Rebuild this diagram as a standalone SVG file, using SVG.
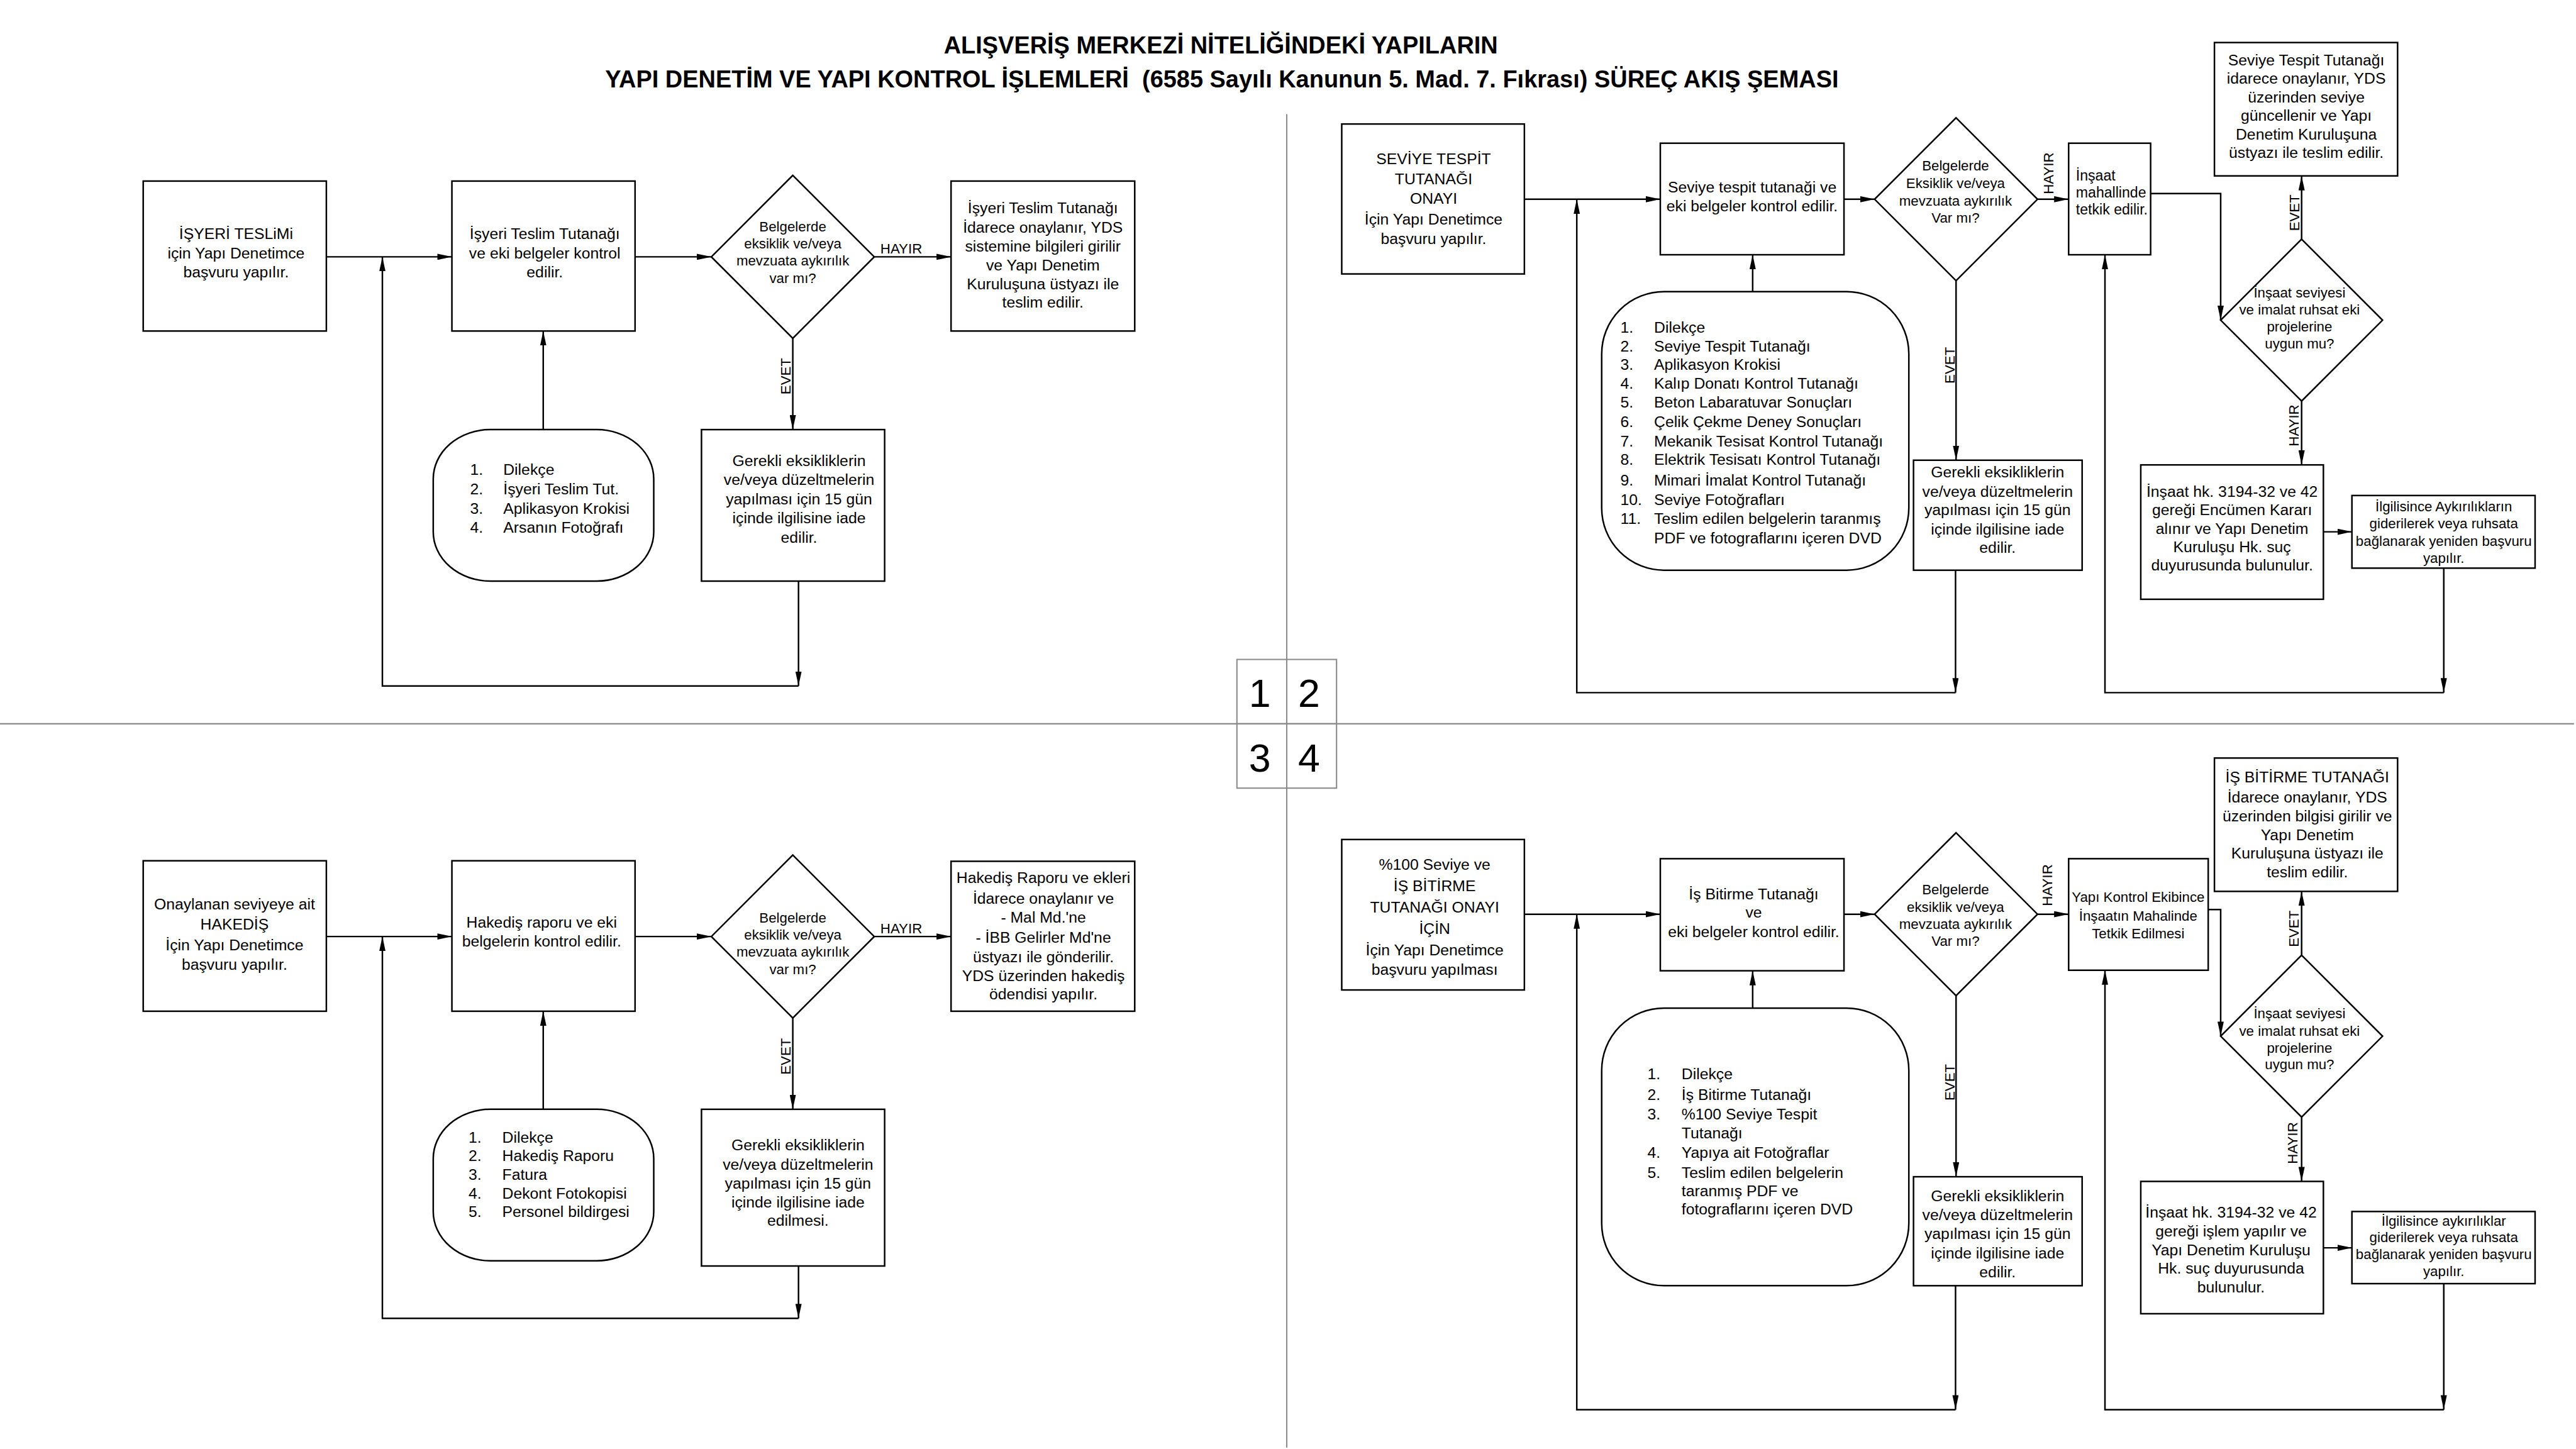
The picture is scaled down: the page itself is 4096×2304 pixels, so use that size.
<svg xmlns="http://www.w3.org/2000/svg" width="4096" height="2304" viewBox="0 0 4096 2304">
<defs>
<style>
.b{fill:#fff;stroke:#000;stroke-width:3}
.c{fill:none;stroke:#000;stroke-width:3}
.d{fill:none;stroke:#8a8a8a;stroke-width:2.5}
text{font-family:"Liberation Sans",Arial,sans-serif;fill:#000}
.t{font-size:30px;text-anchor:middle}
.s{font-size:27px;text-anchor:middle}
.ls{font-size:30px;text-anchor:start}
.st{font-size:28px;text-anchor:start}
.h{font-size:46px;font-weight:bold;text-anchor:middle}
.n{font-size:76px;text-anchor:middle}
</style>
<marker id="ah" viewBox="0 0 28 12" refX="28" refY="6" markerWidth="28" markerHeight="12" orient="auto" markerUnits="userSpaceOnUse"><path d="M0,0 L28,6 L0,12 Z" fill="#000"/></marker>
</defs>
<rect x="0" y="0" width="4096" height="2304" fill="#fff"/>
<g transform="scale(0.825)">
<g id="title">
<text class="h" x="2353" y="103">ALIŞVERİŞ MERKEZİ NİTELİĞİNDEKİ YAPILARIN</text>
<text class="h" x="2355" y="168" xml:space="preserve">YAPI DENETİM VE YAPI KONTROL İŞLEMLERİ  (6585 Sayılı Kanunun 5. Mad. 7. Fıkrası) SÜREÇ AKIŞ ŞEMASI</text>
</g>
<g id="dividers">
<line class="d" x1="2480" y1="220" x2="2480" y2="2790"/>
<line class="d" x1="0" y1="1395" x2="4961" y2="1395"/>
<rect x="2384" y="1271" width="192" height="248" fill="none" stroke="#8a8a8a" stroke-width="2.5"/>
<line class="d" x1="2384" y1="1395" x2="2576" y2="1395"/>
<text class="n" x="2428" y="1363">1</text>
<text class="n" x="2523" y="1363">2</text>
<text class="n" x="2428" y="1487">3</text>
<text class="n" x="2523" y="1487">4</text>
</g>
<g id="connectors">
<!-- Q1 -->
<line class="c" x1="629" y1="495" x2="871" y2="495" marker-end="url(#ah)"/>
<line class="c" x1="1224" y1="495" x2="1371" y2="495" marker-end="url(#ah)"/>
<line class="c" x1="1685" y1="495" x2="1833" y2="495" marker-end="url(#ah)"/>
<line class="c" x1="1528" y1="652" x2="1528" y2="828" marker-end="url(#ah)"/>
<line class="c" x1="1047" y1="828" x2="1047" y2="638" marker-end="url(#ah)"/>
<line class="c" x1="1539" y1="1120" x2="1539" y2="1322" marker-end="url(#ah)"/>
<polyline class="c" points="1539,1322 737,1322 737,495" marker-end="url(#ah)"/>
<!-- Q2 -->
<line class="c" x1="2938" y1="384" x2="3200" y2="384" marker-end="url(#ah)"/>
<line class="c" x1="3554" y1="384" x2="3613" y2="384" marker-end="url(#ah)"/>
<line class="c" x1="3927" y1="384" x2="3987" y2="384" marker-end="url(#ah)"/>
<line class="c" x1="3378" y1="562" x2="3378" y2="491" marker-end="url(#ah)"/>
<polyline class="c" points="4145,373 4280,373 4280,617" marker-end="url(#ah)"/>
<line class="c" x1="4436" y1="461" x2="4436" y2="339" marker-end="url(#ah)"/>
<line class="c" x1="4436" y1="773" x2="4436" y2="896" marker-end="url(#ah)"/>
<line class="c" x1="4478" y1="1025" x2="4533" y2="1025" marker-end="url(#ah)"/>
<line class="c" x1="3770" y1="541" x2="3770" y2="887" marker-end="url(#ah)"/>
<line class="c" x1="4710" y1="1095" x2="4710" y2="1335" marker-end="url(#ah)"/>
<polyline class="c" points="4710,1335 4057,1335 4057,491" marker-end="url(#ah)"/>
<line class="c" x1="3769" y1="1099" x2="3769" y2="1335" marker-end="url(#ah)"/>
<polyline class="c" points="3769,1335 3039,1335 3039,384" marker-end="url(#ah)"/>
<!-- Q3 -->
<line class="c" x1="629" y1="1805" x2="871" y2="1805" marker-end="url(#ah)"/>
<line class="c" x1="1224" y1="1805" x2="1371" y2="1805" marker-end="url(#ah)"/>
<line class="c" x1="1685" y1="1805" x2="1833" y2="1805" marker-end="url(#ah)"/>
<line class="c" x1="1528" y1="1962" x2="1528" y2="2138" marker-end="url(#ah)"/>
<line class="c" x1="1047" y1="2138" x2="1047" y2="1949" marker-end="url(#ah)"/>
<line class="c" x1="1539" y1="2440" x2="1539" y2="2541" marker-end="url(#ah)"/>
<polyline class="c" points="1539,2541 737,2541 737,1805" marker-end="url(#ah)"/>
<!-- Q4 -->
<line class="c" x1="2938" y1="1762" x2="3200" y2="1762" marker-end="url(#ah)"/>
<line class="c" x1="3554" y1="1762" x2="3613" y2="1762" marker-end="url(#ah)"/>
<line class="c" x1="3927" y1="1762" x2="3987" y2="1762" marker-end="url(#ah)"/>
<line class="c" x1="3378" y1="1943" x2="3378" y2="1871" marker-end="url(#ah)"/>
<polyline class="c" points="4256,1753 4280,1753 4280,1997" marker-end="url(#ah)"/>
<line class="c" x1="4436" y1="1841" x2="4436" y2="1718" marker-end="url(#ah)"/>
<line class="c" x1="4436" y1="2153" x2="4436" y2="2277" marker-end="url(#ah)"/>
<line class="c" x1="4478" y1="2405" x2="4533" y2="2405" marker-end="url(#ah)"/>
<line class="c" x1="3770" y1="1919" x2="3770" y2="2268" marker-end="url(#ah)"/>
<line class="c" x1="4710" y1="2474" x2="4710" y2="2717" marker-end="url(#ah)"/>
<polyline class="c" points="4710,2717 4057,2717 4057,1870" marker-end="url(#ah)"/>
<line class="c" x1="3769" y1="2478" x2="3769" y2="2717" marker-end="url(#ah)"/>
<polyline class="c" points="3769,2717 3039,2717 3039,1762" marker-end="url(#ah)"/>
</g>
<g id="labels">
<text class="s" x="1737" y="489">HAYIR</text>
<text class="s" transform="translate(1524,725) rotate(-90)">EVET</text>
<text class="s" transform="translate(3958,334) rotate(-90)">HAYIR</text>
<text class="s" transform="translate(4432,410) rotate(-90)">EVET</text>
<text class="s" transform="translate(4430,820) rotate(-90)">HAYIR</text>
<text class="s" transform="translate(3767,704) rotate(-90)">EVET</text>
<text class="s" x="1737" y="1799">HAYIR</text>
<text class="s" transform="translate(1524,2036) rotate(-90)">EVET</text>
<text class="s" transform="translate(3955,1706) rotate(-90)">HAYIR</text>
<text class="s" transform="translate(4430,1790) rotate(-90)">EVET</text>
<text class="s" transform="translate(4428,2203) rotate(-90)">HAYIR</text>
<text class="s" transform="translate(3767,2086) rotate(-90)">EVET</text>
</g>
<!-- Quadrant 1 -->
<g id="q1-basvuru">
<rect class="b" x="276" y="349" width="353" height="289"/>
<text class="t" x="455" y="461">İŞYERİ TESLiMi</text>
<text class="t" x="455" y="498">için Yapı Denetimce</text>
<text class="t" x="455" y="534">başvuru yapılır.</text>
</g>
<g id="q1-kontrol">
<rect class="b" x="871" y="349" width="353" height="289"/>
<text class="t" x="1050" y="461">İşyeri Teslim Tutanağı</text>
<text class="t" x="1050" y="498">ve eki belgeler kontrol</text>
<text class="t" x="1050" y="534">edilir.</text>
</g>
<g id="q1-karar">
<polygon class="b" points="1528,338 1685,495 1528,652 1371,495"/>
<text class="s" x="1528" y="446">Belgelerde</text>
<text class="s" x="1528" y="479">eksiklik ve/veya</text>
<text class="s" x="1528" y="512">mevzuata aykırılık</text>
<text class="s" x="1528" y="545">var mı?</text>
</g>
<g id="q1-onay">
<rect class="b" x="1833" y="349" width="354" height="289"/>
<text class="t" x="2010" y="411">İşyeri Teslim Tutanağı</text>
<text class="t" x="2010" y="448">İdarece onaylanır, YDS</text>
<text class="t" x="2010" y="485">sistemine bilgileri girilir</text>
<text class="t" x="2010" y="521">ve Yapı Denetim</text>
<text class="t" x="2010" y="557">Kuruluşuna üstyazı ile</text>
<text class="t" x="2010" y="593">teslim edilir.</text>
</g>
<g id="q1-iade">
<rect class="b" x="1352" y="828" width="353" height="292"/>
<text class="t" x="1540" y="898">Gerekli eksikliklerin</text>
<text class="t" x="1540" y="935">ve/veya düzeltmelerin</text>
<text class="t" x="1540" y="972">yapılması için 15 gün</text>
<text class="t" x="1540" y="1009">içinde ilgilisine iade</text>
<text class="t" x="1540" y="1046">edilir.</text>
</g>
<g id="q1-belgeler">
<rect class="b" x="835" y="828" width="425" height="292" rx="110" ry="95"/>
<text class="ls" x="906" y="915">1.</text><text class="ls" x="970" y="915">Dilekçe</text>
<text class="ls" x="906" y="953">2.</text><text class="ls" x="970" y="953">İşyeri Teslim Tut.</text>
<text class="ls" x="906" y="990">3.</text><text class="ls" x="970" y="990">Aplikasyon Krokisi</text>
<text class="ls" x="906" y="1027">4.</text><text class="ls" x="970" y="1027">Arsanın Fotoğrafı</text>
</g>
<!-- Quadrant 2 -->
<g id="q2-basvuru">
<rect class="b" x="2586" y="239" width="352" height="289"/>
<text class="t" x="2763" y="316">SEVİYE TESPİT</text>
<text class="t" x="2763" y="355">TUTANAĞI</text>
<text class="t" x="2763" y="393">ONAYI</text>
<text class="t" x="2763" y="433">İçin Yapı Denetimce</text>
<text class="t" x="2763" y="470">başvuru yapılır.</text>
</g>
<g id="q2-kontrol">
<rect class="b" x="3200" y="276" width="354" height="215"/>
<text class="t" x="3377" y="371">Seviye tespit tutanaği ve</text>
<text class="t" x="3377" y="407">eki belgeler kontrol edilir.</text>
</g>
<g id="q2-karar">
<polygon class="b" points="3770,227 3927,384 3770,541 3613,384"/>
<text class="s" x="3769" y="329">Belgelerde</text>
<text class="s" x="3769" y="362">Eksiklik ve/veya</text>
<text class="s" x="3769" y="396">mevzuata aykırılık</text>
<text class="s" x="3769" y="429">Var mı?</text>
</g>
<g id="q2-tetkik">
<rect class="b" x="3987" y="276" width="158" height="215"/>
<text class="st" x="4001" y="348">İnşaat</text>
<text class="st" x="4001" y="380">mahallinde</text>
<text class="st" x="4001" y="413">tetkik edilir.</text>
</g>
<g id="q2-uygun">
<polygon class="b" points="4436,461 4592,617 4436,773 4280,617"/>
<text class="s" x="4432" y="573">İnşaat seviyesi</text>
<text class="s" x="4432" y="606">ve imalat ruhsat eki</text>
<text class="s" x="4432" y="639">projelerine</text>
<text class="s" x="4432" y="672">uygun mu?</text>
</g>
<g id="q2-onay">
<rect class="b" x="4268" y="82" width="353" height="257"/>
<text class="t" x="4445" y="126">Seviye Tespit Tutanağı</text>
<text class="t" x="4445" y="161">idarece onaylanır, YDS</text>
<text class="t" x="4445" y="197">üzerinden seviye</text>
<text class="t" x="4445" y="233">güncellenir ve Yapı</text>
<text class="t" x="4445" y="269">Denetim Kuruluşuna</text>
<text class="t" x="4445" y="304">üstyazı ile teslim edilir.</text>
</g>
<g id="q2-encumen">
<rect class="b" x="4126" y="896" width="352" height="259"/>
<text class="t" x="4302" y="958">İnşaat hk. 3194-32 ve 42</text>
<text class="t" x="4302" y="993">gereği Encümen Kararı</text>
<text class="t" x="4302" y="1029">alınır ve Yapı Denetim</text>
<text class="t" x="4302" y="1064">Kuruluşu Hk. suç</text>
<text class="t" x="4302" y="1099">duyurusunda bulunulur.</text>
</g>
<g id="q2-yeniden">
<rect class="b" x="4533" y="955" width="353" height="140"/>
<text class="s" x="4710" y="985">İlgilisince Aykırılıkların</text>
<text class="s" x="4710" y="1018">giderilerek veya ruhsata</text>
<text class="s" x="4710" y="1052">bağlanarak yeniden başvuru</text>
<text class="s" x="4710" y="1085">yapılır.</text>
</g>
<g id="q2-iade">
<rect class="b" x="3688" y="887" width="325" height="212"/>
<text class="t" x="3850" y="920">Gerekli eksikliklerin</text>
<text class="t" x="3850" y="957">ve/veya düzeltmelerin</text>
<text class="t" x="3850" y="993">yapılması için 15 gün</text>
<text class="t" x="3850" y="1030">içinde ilgilisine iade</text>
<text class="t" x="3850" y="1066">edilir.</text>
</g>
<g id="q2-belgeler">
<rect class="b" x="3087" y="562" width="592" height="537" rx="120" ry="120"/>
<text class="ls" x="3123" y="641">1.</text><text class="ls" x="3188" y="641">Dilekçe</text>
<text class="ls" x="3123" y="677">2.</text><text class="ls" x="3188" y="677">Seviye Tespit Tutanağı</text>
<text class="ls" x="3123" y="713">3.</text><text class="ls" x="3188" y="713">Aplikasyon Krokisi</text>
<text class="ls" x="3123" y="749">4.</text><text class="ls" x="3188" y="749">Kalıp Donatı Kontrol Tutanağı</text>
<text class="ls" x="3123" y="786">5.</text><text class="ls" x="3188" y="786">Beton Labaratuvar Sonuçları</text>
<text class="ls" x="3123" y="823">6.</text><text class="ls" x="3188" y="823">Çelik Çekme Deney Sonuçları</text>
<text class="ls" x="3123" y="860">7.</text><text class="ls" x="3188" y="860">Mekanik Tesisat Kontrol Tutanağı</text>
<text class="ls" x="3123" y="896">8.</text><text class="ls" x="3188" y="896">Elektrik Tesisatı Kontrol Tutanağı</text>
<text class="ls" x="3123" y="936">9.</text><text class="ls" x="3188" y="936">Mimari İmalat Kontrol Tutanağı</text>
<text class="ls" x="3123" y="973">10.</text><text class="ls" x="3188" y="973">Seviye Fotoğrafları</text>
<text class="ls" x="3123" y="1010">11.</text><text class="ls" x="3188" y="1010">Teslim edilen belgelerin taranmış</text>
<text class="ls" x="3188" y="1047">PDF ve fotograflarını içeren DVD</text>
</g>
<!-- Quadrant 3 -->
<g id="q3-basvuru">
<rect class="b" x="276" y="1659" width="353" height="290"/>
<text class="t" x="452" y="1753">Onaylanan seviyeye ait</text>
<text class="t" x="452" y="1792">HAKEDİŞ</text>
<text class="t" x="452" y="1831">İçin Yapı Denetimce</text>
<text class="t" x="452" y="1869">başvuru yapılır.</text>
</g>
<g id="q3-kontrol">
<rect class="b" x="871" y="1659" width="353" height="290"/>
<text class="t" x="1044" y="1788">Hakediş raporu ve eki</text>
<text class="t" x="1044" y="1824">belgelerin kontrol edilir.</text>
</g>
<g id="q3-karar">
<polygon class="b" points="1528,1648 1685,1805 1528,1962 1371,1805"/>
<text class="s" x="1528" y="1778">Belgelerde</text>
<text class="s" x="1528" y="1811">eksiklik ve/veya</text>
<text class="s" x="1528" y="1844">mevzuata aykırılık</text>
<text class="s" x="1528" y="1877">var mı?</text>
</g>
<g id="q3-onay">
<rect class="b" x="1833" y="1660" width="354" height="289"/>
<text class="t" x="2011" y="1702">Hakediş Raporu ve ekleri</text>
<text class="t" x="2011" y="1742">İdarece onaylanır ve</text>
<text class="t" x="2011" y="1778">- Mal Md.'ne</text>
<text class="t" x="2011" y="1817">- İBB Gelirler Md'ne</text>
<text class="t" x="2011" y="1854">üstyazı ile gönderilir.</text>
<text class="t" x="2011" y="1891">YDS üzerinden hakediş</text>
<text class="t" x="2011" y="1926">ödendisi yapılır.</text>
</g>
<g id="q3-iade">
<rect class="b" x="1352" y="2138" width="353" height="302"/>
<text class="t" x="1538" y="2217">Gerekli eksikliklerin</text>
<text class="t" x="1538" y="2254">ve/veya düzeltmelerin</text>
<text class="t" x="1538" y="2291">yapılması için 15 gün</text>
<text class="t" x="1538" y="2327">içinde ilgilisine iade</text>
<text class="t" x="1538" y="2363">edilmesi.</text>
</g>
<g id="q3-belgeler">
<rect class="b" x="835" y="2138" width="425" height="292" rx="110" ry="95"/>
<text class="ls" x="903" y="2202">1.</text><text class="ls" x="968" y="2202">Dilekçe</text>
<text class="ls" x="903" y="2238">2.</text><text class="ls" x="968" y="2238">Hakediş Raporu</text>
<text class="ls" x="903" y="2274">3.</text><text class="ls" x="968" y="2274">Fatura</text>
<text class="ls" x="903" y="2310">4.</text><text class="ls" x="968" y="2310">Dekont Fotokopisi</text>
<text class="ls" x="903" y="2346">5.</text><text class="ls" x="968" y="2346">Personel bildirgesi</text>
</g>
<!-- Quadrant 4 -->
<g id="q4-basvuru">
<rect class="b" x="2586" y="1618" width="352" height="290"/>
<text class="t" x="2765" y="1676">%100 Seviye ve</text>
<text class="t" x="2765" y="1717">İŞ BİTİRME</text>
<text class="t" x="2765" y="1759">TUTANAĞI ONAYI</text>
<text class="t" x="2765" y="1800">İÇİN</text>
<text class="t" x="2765" y="1841">İçin Yapı Denetimce</text>
<text class="t" x="2765" y="1879">başvuru yapılması</text>
</g>
<g id="q4-kontrol">
<rect class="b" x="3200" y="1655" width="354" height="216"/>
<text class="t" x="3380" y="1733">İş Bitirme Tutanağı</text>
<text class="t" x="3380" y="1769">ve</text>
<text class="t" x="3380" y="1806">eki belgeler kontrol edilir.</text>
</g>
<g id="q4-karar">
<polygon class="b" points="3770,1605 3927,1762 3770,1919 3613,1762"/>
<text class="s" x="3769" y="1724">Belgelerde</text>
<text class="s" x="3769" y="1758">eksiklik ve/veya</text>
<text class="s" x="3769" y="1790">mevzuata aykırılık</text>
<text class="s" x="3769" y="1823">Var mı?</text>
</g>
<g id="q4-tetkik">
<rect class="b" x="3987" y="1655" width="269" height="215"/>
<text class="s" x="4121" y="1738">Yapı Kontrol Ekibince</text>
<text class="s" x="4121" y="1774">İnşaatın Mahalinde</text>
<text class="s" x="4121" y="1809">Tetkik Edilmesi</text>
</g>
<g id="q4-uygun">
<polygon class="b" points="4436,1841 4592,1997 4436,2153 4280,1997"/>
<text class="s" x="4432" y="1963">İnşaat seviyesi</text>
<text class="s" x="4432" y="1996">ve imalat ruhsat eki</text>
<text class="s" x="4432" y="2029">projelerine</text>
<text class="s" x="4432" y="2061">uygun mu?</text>
</g>
<g id="q4-onay">
<rect class="b" x="4268" y="1461" width="353" height="257"/>
<text class="t" x="4447" y="1508">İŞ BİTİRME TUTANAĞI</text>
<text class="t" x="4447" y="1547">İdarece onaylanır, YDS</text>
<text class="t" x="4447" y="1583">üzerinden bilgisi girilir ve</text>
<text class="t" x="4447" y="1619">Yapı Denetim</text>
<text class="t" x="4447" y="1655">Kuruluşuna üstyazı ile</text>
<text class="t" x="4447" y="1691">teslim edilir.</text>
</g>
<g id="q4-islem">
<rect class="b" x="4126" y="2277" width="352" height="255"/>
<text class="t" x="4300" y="2347">İnşaat hk. 3194-32 ve 42</text>
<text class="t" x="4300" y="2383">gereği işlem yapılır ve</text>
<text class="t" x="4300" y="2419">Yapı Denetim Kuruluşu</text>
<text class="t" x="4300" y="2455">Hk. suç duyurusunda</text>
<text class="t" x="4300" y="2491">bulunulur.</text>
</g>
<g id="q4-yeniden">
<rect class="b" x="4533" y="2335" width="353" height="139"/>
<text class="s" x="4710" y="2362">İlgilisince aykırılıklar</text>
<text class="s" x="4710" y="2394">giderilerek veya ruhsata</text>
<text class="s" x="4710" y="2427">bağlanarak yeniden başvuru</text>
<text class="s" x="4710" y="2459">yapılır.</text>
</g>
<g id="q4-iade">
<rect class="b" x="3688" y="2268" width="325" height="210"/>
<text class="t" x="3850" y="2315">Gerekli eksikliklerin</text>
<text class="t" x="3850" y="2352">ve/veya düzeltmelerin</text>
<text class="t" x="3850" y="2388">yapılması için 15 gün</text>
<text class="t" x="3850" y="2426">içinde ilgilisine iade</text>
<text class="t" x="3850" y="2462">edilir.</text>
</g>
<g id="q4-belgeler">
<rect class="b" x="3087" y="1943" width="592" height="535" rx="120" ry="120"/>
<text class="ls" x="3175" y="2080">1.</text><text class="ls" x="3241" y="2080">Dilekçe</text>
<text class="ls" x="3175" y="2120">2.</text><text class="ls" x="3241" y="2120">İş Bitirme Tutanağı</text>
<text class="ls" x="3175" y="2158">3.</text><text class="ls" x="3241" y="2158">%100 Seviye Tespit</text>
<text class="ls" x="3241" y="2194">Tutanağı</text>
<text class="ls" x="3175" y="2232">4.</text><text class="ls" x="3241" y="2232">Yapıya ait Fotoğraflar</text>
<text class="ls" x="3175" y="2270">5.</text><text class="ls" x="3241" y="2270">Teslim edilen belgelerin</text>
<text class="ls" x="3241" y="2305">taranmış PDF ve</text>
<text class="ls" x="3241" y="2340">fotograflarını içeren DVD</text>
</g>
</g>
</svg>
